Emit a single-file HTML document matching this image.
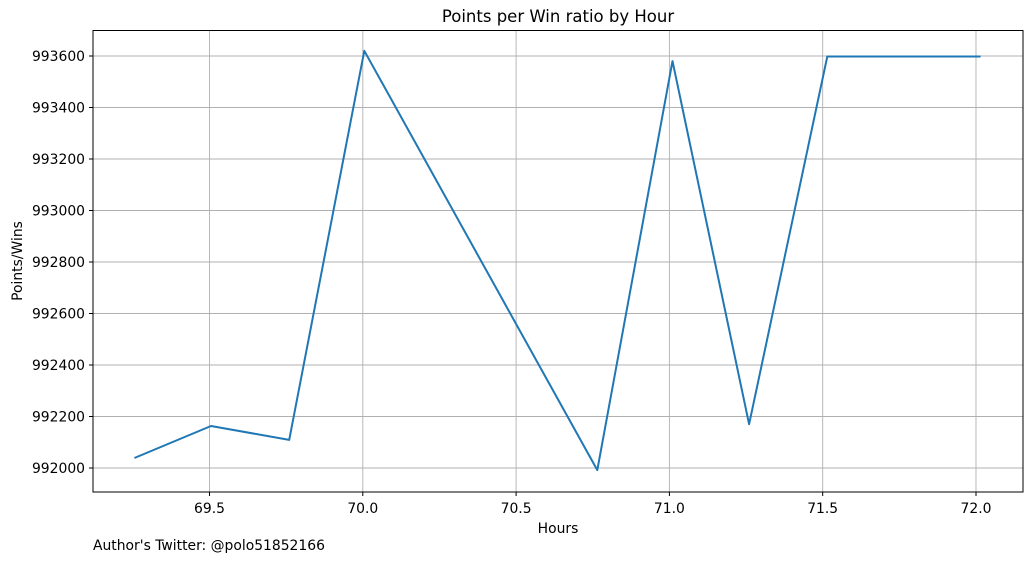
<!DOCTYPE html>
<html><head><meta charset="utf-8"><style>
body{margin:0;background:#fff;font-family:"Liberation Sans","DejaVu Sans",sans-serif}
svg text{font-family:"DejaVu Sans","Liberation Sans",sans-serif;fill:#000}
</style></head><body>
<svg id="chart" width="1032" height="562" xmlns="http://www.w3.org/2000/svg">
<text x="558" y="22" font-size="16.5" text-anchor="middle">Points per Win ratio by Hour</text>
<g id="grid"></g>
<g id="xticks"></g>
<g id="yticks"></g>
<path id="line" fill="none" stroke="#1f77b4" stroke-width="2" stroke-linejoin="round"/>
<rect x="93" y="30.5" width="930" height="461.5" fill="none" stroke="#000" stroke-width="1"/>
<text x="558" y="533" font-size="13.9" text-anchor="middle">Hours</text>
<text transform="translate(22,261) rotate(-90)" font-size="13.9" text-anchor="middle">Points/Wins</text>
<text x="93" y="550" font-size="13.9">Author's Twitter: @polo51852166</text>
</svg>
<script>
const hours=[69.255,69.505,69.76,70.005,70.765,71.01,71.26,71.515,72.015];
const ratios=[992039,992163,992109,993620,991992,993580,992170,993598,993598];
const xTickLabels=["69.5","70.0","70.5","71.0","71.5","72.0"];
const yTickLabels=["992000","992200","992400","992600","992800","993000","993200","993400","993600"];
const X=v=>209.5+(v-69.5)*306.6;
const Y=v=>468-(v-992000)*0.2575;
const ns="http://www.w3.org/2000/svg";
const grid=document.getElementById('grid'),xg=document.getElementById('xticks'),yg=document.getElementById('yticks');
function mk(t,a,p){const e=document.createElementNS(ns,t);for(const k in a)e.setAttribute(k,a[k]);p.appendChild(e);return e;}
xTickLabels.forEach(l=>{const x=X(parseFloat(l));
const g=mk('line',{x1:x,x2:x,y1:30.5,y2:492,stroke:'#b0b0b0','stroke-width':0.9},grid);


const t=mk('line',{x1:x,x2:x,y1:492,y2:496,stroke:'#000'},xg);


const tx=mk('text',{x:x,y:513,'font-size':13.9,'text-anchor':'middle'},xg);tx.textContent=l;


});
yTickLabels.forEach(l=>{const y=Y(parseFloat(l));
const g=mk('line',{x1:93,x2:1023,y1:y,y2:y,stroke:'#b0b0b0','stroke-width':0.9},grid);


const t=mk('line',{x1:89,x2:93,y1:y,y2:y,stroke:'#000'},yg);


const tx=mk('text',{x:85,y:y+5,'font-size':13.9,'text-anchor':'end'},yg);tx.textContent=l;


});
document.getElementById('line').setAttribute('d',hours.map((h,i)=>(i?'L':'M')+X(h).toFixed(1)+','+Y(ratios[i]).toFixed(1)).join(''));
</script>
</body></html>
